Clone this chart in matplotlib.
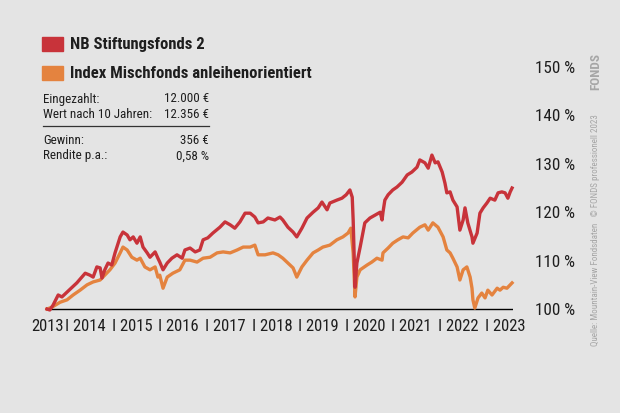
from matplotlib import pyplot as plt
from matplotlib import font_manager
from matplotlib.patches import Rectangle
import numpy as np

# data (year, percent of initial value)
red_years = [2013.00, 2013.06, 2013.13, 2013.24, 2013.32, 2013.43, 2013.54, 2013.64, 2013.82, 2013.92,
             2013.99, 2014.07, 2014.14, 2014.18, 2014.24, 2014.31, 2014.39, 2014.46, 2014.57, 2014.63,
             2014.72, 2014.78, 2014.85, 2014.93, 2015.00, 2015.06, 2015.15, 2015.21, 2015.32, 2015.38,
             2015.42, 2015.49, 2015.58, 2015.68, 2015.79, 2015.90, 2015.96, 2016.07, 2016.18, 2016.28,
             2016.35, 2016.45, 2016.56, 2016.71, 2016.82, 2016.93, 2017.03, 2017.14, 2017.25, 2017.36,
             2017.46, 2017.53, 2017.64, 2017.74, 2017.89, 2018.00, 2018.06, 2018.17, 2018.28, 2018.36,
             2018.47, 2018.58, 2018.71, 2018.82, 2018.90, 2019.01, 2019.07, 2019.22, 2019.33, 2019.42,
             2019.50, 2019.55, 2019.57, 2019.61, 2019.65, 2019.72, 2019.82, 2019.93, 2020.04, 2020.15,
             2020.19, 2020.21, 2020.25, 2020.32, 2020.42, 2020.51, 2020.62, 2020.73, 2020.83, 2020.94,
             2021.00, 2021.11, 2021.18, 2021.26, 2021.33, 2021.39, 2021.48, 2021.54, 2021.58, 2021.65,
             2021.71, 2021.80, 2021.86, 2021.93, 2021.97, 2022.03, 2022.12, 2022.14, 2022.23, 2022.29,
             2022.36, 2022.44, 2022.51, 2022.61, 2022.68, 2022.76, 2022.83, 2022.89, 2022.94, 2022.98]
red_vals = [100.0, 99.8, 100.8, 102.9, 102.5, 103.5, 104.5, 105.4, 107.4, 107.0,
            106.6, 108.7, 108.5, 106.4, 108.1, 109.5, 109.1, 111.6, 114.9, 115.9,
            115.3, 114.3, 114.9, 113.6, 114.9, 112.8, 111.6, 110.7, 111.8, 110.5,
            109.7, 108.1, 109.5, 110.5, 111.2, 110.5, 112.2, 112.6, 111.8, 112.2,
            114.3, 114.7, 115.7, 116.9, 118.0, 117.4, 116.7, 118.0, 119.8, 119.8,
            119.0, 117.8, 118.0, 118.8, 118.4, 119.0, 118.4, 116.9, 115.9, 114.9,
            116.7, 118.8, 120.0, 120.9, 122.1, 120.5, 121.9, 122.5, 122.9, 123.6,
            124.6, 123.1, 118.4, 104.5, 109.5, 112.8, 117.8, 118.8, 119.4, 120.0,
            118.4, 120.0, 122.5, 123.6, 124.6, 125.2, 126.2, 127.7, 128.3, 129.3,
            130.8, 130.2, 129.1, 131.8, 130.2, 130.4, 128.3, 126.0, 124.0, 124.2,
            122.5, 121.1, 116.3, 118.4, 120.9, 117.8, 114.9, 113.6, 115.7, 119.8,
            120.9, 121.9, 122.9, 122.5, 124.0, 124.2, 124.0, 122.9, 124.2, 125.0]

orange_years = [2013.00, 2013.11, 2013.28, 2013.43, 2013.56, 2013.71, 2013.86, 2013.99, 2014.14, 2014.20,
                2014.35, 2014.46, 2014.57, 2014.63, 2014.72, 2014.82, 2014.93, 2015.00, 2015.10, 2015.21,
                2015.32, 2015.38, 2015.42, 2015.49, 2015.58, 2015.70, 2015.85, 2015.96, 2016.07, 2016.22,
                2016.35, 2016.50, 2016.65, 2016.78, 2016.93, 2017.08, 2017.21, 2017.36, 2017.46, 2017.53,
                2017.68, 2017.85, 2017.96, 2018.06, 2018.17, 2018.28, 2018.36, 2018.47, 2018.58, 2018.71,
                2018.82, 2018.92, 2019.07, 2019.22, 2019.35, 2019.46, 2019.52, 2019.57, 2019.61, 2019.65,
                2019.72, 2019.87, 2019.97, 2020.08, 2020.19, 2020.21, 2020.32, 2020.42, 2020.53, 2020.64,
                2020.75, 2020.85, 2021.00, 2021.11, 2021.18, 2021.28, 2021.39, 2021.50, 2021.58, 2021.65,
                2021.71, 2021.80, 2021.86, 2021.93, 2022.01, 2022.08, 2022.12, 2022.14, 2022.18, 2022.25,
                2022.33, 2022.40, 2022.46, 2022.55, 2022.66, 2022.72, 2022.79, 2022.87, 2022.94, 2022.98]
orange_vals = [100.0, 100.4, 101.4, 101.9, 102.9, 103.9, 105.0, 105.6, 106.0, 106.6,
               108.1, 109.5, 111.6, 112.8, 112.2, 110.7, 110.1, 110.5, 108.7, 108.1,
               108.7, 106.6, 107.0, 104.3, 106.6, 107.4, 108.1, 110.1, 110.1, 109.7,
               110.5, 110.7, 111.6, 111.8, 111.6, 112.2, 112.8, 112.8, 113.2, 111.2,
               111.2, 111.6, 111.2, 110.5, 109.5, 108.5, 106.6, 108.7, 110.1, 111.6,
               112.2, 112.8, 113.2, 114.3, 114.9, 115.7, 116.7, 111.6, 102.5, 106.6,
               108.1, 109.1, 109.7, 110.5, 110.1, 111.6, 112.6, 113.6, 114.3, 114.9,
               114.7, 115.7, 116.9, 117.4, 116.3, 117.8, 116.9, 114.9, 112.2, 111.6,
               110.5, 108.7, 106.0, 108.1, 108.7, 106.6, 104.3, 101.9, 100.2, 102.3,
               103.3, 102.3, 103.9, 102.9, 104.3, 103.9, 104.5, 104.3, 105.0, 105.4]

series_names = ["NB Stiftungsfonds 2", "Index Mischfonds anleihenorientiert"]
y_ticks = [100, 110, 120, 130, 140, 150]
year_labels = list(range(2013, 2024))
stats_labels = ["Eingezahlt:", "Wert nach 10 Jahren:", "Gewinn:", "Rendite p.a.:"]
stats_values = ["12.000 €", "12.356 €", "356 €", "0,58 %"]
source_text = "Quelle: Mountain-View Fondsdaten   © FONDS professionell 2023"

RED = "#c8333a"
ORANGE = "#e4833f"
BG = "#e4e4e4"
TXT = "#1e1e1e"

# pick a narrow font if one is around
names = {f.name for f in font_manager.fontManager.ttflist}
FONT = "DejaVu Sans"
for cand in ["Roboto Condensed", "Liberation Sans Narrow", "Open Sans Condensed", "Noto Sans Condensed"]:
    if cand in names:
        FONT = cand
        break
plt.rcParams['font.family'] = [FONT, 'DejaVu Sans']

W, H = 620, 413
fig = plt.figure(figsize=(W / 100, H / 100), dpi=100, facecolor=BG)

def fx(px):
    return px / W

def fy(py):
    return 1 - py / H

# axes: 2013 -> px 47, 2023 -> px 513 ; 100% -> py 309, 4.84 px per %
ax = fig.add_axes([fx(47), fy(316.3), fx(513 - 47), (316.3 - 57.3) / H])
ax.set_facecolor(BG)
ax.set_xlim(2013, 2023)
ax.set_ylim(98.5, 152)

ax.plot(orange_years, orange_vals, color=ORANGE, lw=2.4, clip_on=False, solid_joinstyle='round')
ax.plot(red_years, red_vals, color=RED, lw=2.4, clip_on=False, solid_joinstyle='round')
ax.axhline(100, color="black", lw=1.0, zorder=0)

for s in ax.spines.values():
    s.set_visible(False)

ax.yaxis.tick_right()
ax.set_yticks(y_ticks)
ax.set_yticklabels([f"{v} %" for v in y_ticks])
ax.tick_params(axis='y', length=0, pad=16, labelsize=12.3, labelcolor=TXT)

xpos = [year_labels[0] + 0.36] + [y - 0.61 for y in year_labels[1:]]
ax.set_xticks(xpos)
ax.set_xticklabels([str(year_labels[0])] + [f"I {y}" for y in year_labels[1:]])
ax.tick_params(axis='x', length=0, pad=2, labelsize=12, labelcolor=TXT)
for i, lab in enumerate(ax.get_xticklabels()):
    lab.set_ha('right' if i == 0 else 'left')

# legend
for i, (name, col) in enumerate(zip(series_names, [RED, ORANGE])):
    yc = 44 + i * 29
    fig.patches.append(Rectangle((fx(42), fy(yc + 7)), fx(21), 14 / H, color=col,
                                 transform=fig.transFigure, figure=fig))
    fig.text(fx(70), fy(yc), name, fontsize=12, fontweight='bold', color=TXT,
             va='center', ha='left')

# stats box
rows_y = [99, 114, 140, 156]
for lab, val, yy in zip(stats_labels, stats_values, rows_y):
    fig.text(fx(43), fy(yy), lab, fontsize=9.4, color=TXT, va='center', ha='left')
    fig.text(fx(209), fy(yy), val, fontsize=9.4, color=TXT, va='center', ha='right')
fig.add_artist(plt.Line2D([fx(43), fx(209)], [fy(126), fy(126)], color="#333333", lw=0.9))

# source line, rotated at right
fig.text(fx(596), fy(346), source_text, rotation=90, fontsize=6.5, color="#a6a6a6",
         ha='center', va='bottom')
fig.text(fx(596), fy(53), "FONDS", rotation=90, fontsize=9.5, fontweight='bold',
         color="#a6a6a6", ha='center', va='top')

fig.savefig("out.png", dpi=100, facecolor=BG)
